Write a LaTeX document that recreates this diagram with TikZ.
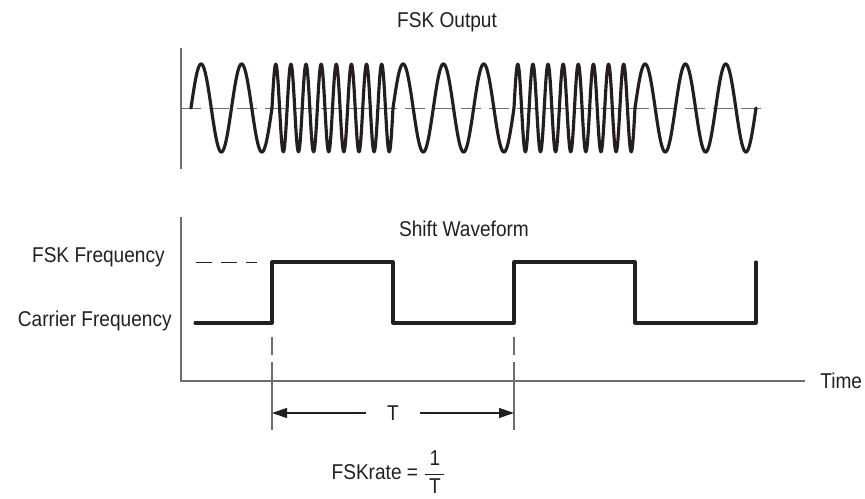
\documentclass[tikz,border=0pt]{standalone}
\usepackage{fontspec}
\setmainfont{Liberation Sans}[FakeStretch=0.89]
\usepackage{amsmath}
\usetikzlibrary{arrows.meta,positioning}
\definecolor{ink}{HTML}{231F20}
\definecolor{axisgray}{HTML}{6D6E71}

\begin{document}
\begin{tikzpicture}[
  x=0.02cm,y=-0.02cm,
  font=\fontsize{12.2}{14}\selectfont,
  axis/.style={axisgray,line width=0.6pt},
  wave/.style={ink,line width=1.8pt,line cap=round,line join=round},
  guide/.style={axisgray,line width=0.5pt,dash pattern=on 0.4cm off 0.16cm},
  level/.style={ink,line width=0.5pt,dash pattern=on 0.32cm off 0.18cm},
  mark line/.style={axisgray,line width=0.6pt,dash pattern=on 0.36cm off 0.14cm on 2cm},
  dim/.style={{Triangle[length=0.3cm,width=0.2cm]}-{Triangle[length=0.3cm,width=0.2cm]},ink,line width=0.7pt},
  lbl/.style={inner sep=0pt,text=ink},
]
  \useasboundingbox (0,0) rectangle (865,499);

  % FSK output
  \node[lbl] (out) at (447,22) {FSK Output};
  \coordinate (ytop) at (181,48);
  \coordinate (ybot) at (181,169);
  \coordinate (c0) at (181,108);
  \coordinate (c1) at (768,108);
  \draw[axis] (ytop) -- (ybot);
  \draw[guide] (c0) -- (c1);
  \foreach \a/\b/\n in {191/272/2,272/393/8,393/514/3,514/635/8,635/756/3}
    \draw[wave] plot[domain=\a:\b,samples=241] (\x,{108-44*sin(360*((\x-\a)/(\b-\a))*\n)});

  % shift waveform
  \node[lbl] (shift) at (464,229) {Shift Waveform};
  \node[lbl,anchor=east] (fskf) at (165,257) {FSK Frequency};
  \node[lbl,anchor=east] (carf) at (172,321) {Carrier Frequency};
  \coordinate (ytop2) at (181,217);
  \coordinate (o) at (181,381);
  \coordinate (xend) at (805,381);
  \draw[axis] (ytop2) -- (o) -- (xend);
  \node[lbl,anchor=west,right=0.3cm of xend] (time) {Time};
  \draw[level] (196,262) -- (257,262);
  \draw[wave] (195,323) -| (272,262) -| (393,323) -| (514,262) -| (635,323) -| (756,262);

  % period
  \coordinate (m1) at (272,337);
  \coordinate (m2) at (514,337);
  \coordinate (a1) at (272,413);
  \coordinate (a2) at (514,413);
  \draw[mark line] (m1) -- ++(0,93);
  \draw[mark line] (m2) -- ++(0,93);
  \draw[dim] (a1) -- node[lbl,fill=white,inner xsep=0.42cm] (per) {T} (a2);
  \node[lbl] (rate) at (389,472) {FSKrate = $\dfrac{\text{\,1\,}}{\text{\,T\,}}$};
\end{tikzpicture}
\end{document}
